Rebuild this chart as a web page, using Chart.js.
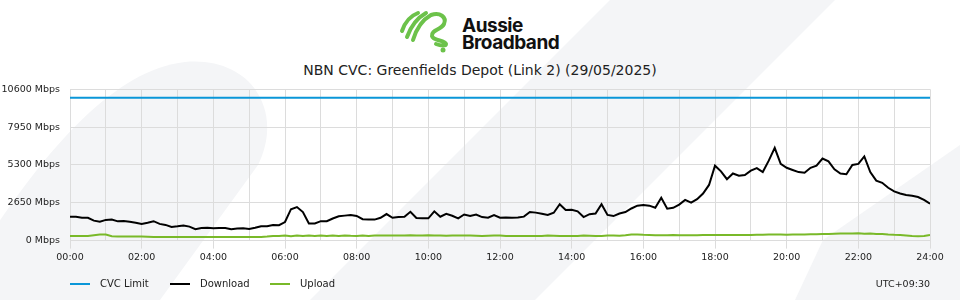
<!DOCTYPE html>
<html>
<head>
<meta charset="utf-8">
<script src="https://cdn.jsdelivr.net/npm/chart.js@4"></script>
<style>
  body { margin: 0; }
  #wrap { position: relative; width: 960px; height: 300px; background: #fff; overflow: hidden; font-family: "DejaVu Sans", sans-serif; color: #222; }
  #bg, #chart, #icon { position: absolute; left: 0; top: 0; }
  .brand { position: absolute; left: 462px; top: 17px; font-family: Inter, sans-serif; font-weight: 700; font-size: 19px; line-height: 17px; letter-spacing: -0.5px; color: #111; }
  .title { position: absolute; left: 0; top: 62px; width: 960px; text-align: center; font-size: 14px; line-height: 16px; }
  .key { position: absolute; top: 283px; width: 20px; height: 2px; }
  .lbl { position: absolute; top: 278px; font-size: 10px; line-height: 12px; white-space: nowrap; }
</style>
</head>
<body>
<div id="wrap">
  <svg id="bg" width="960" height="300">
    <path d="M-10,235 C40,160 110,70 185,62 C250,56 285,110 258,165 L160,300 L-10,300 Z" fill="#f4f5f7"/>
    <path d="M610,0 L835,0 L535,300 L310,300 Z" fill="#f4f5f7"/>
    <path d="M960,145 L823,240 L795,300 L960,300 Z" fill="#f4f5f7"/>
  </svg>
  <svg id="icon" width="960" height="60">
    <g fill="none" stroke="#6cc24a" stroke-width="4" stroke-linecap="round">
      <path d="M402,31 C405,22 410,16 418,13"/>
      <path d="M407,37 C411,26 417,18 426,13"/>
      <path d="M413,40 C416,30 422,20 431,15 C440,12 447,17 444,24 C441,30 431,30 432,36 C433,41 445,40 446,44 C446,46 441,46 436,44"/>
    </g>
    <circle cx="443" cy="50" r="2.5" fill="#6cc24a"/>
  </svg>
  <div class="brand">Aussie<br>Broadband</div>
  <div class="title">NBN CVC: Greenfields Depot (Link 2) (29/05/2025)</div>
  <canvas id="chart" width="960" height="300"></canvas>
  <span class="key" style="left:70px;background:#0a96d8"></span><span class="lbl" style="left:100px">CVC Limit</span>
  <span class="key" style="left:170px;background:#000"></span><span class="lbl" style="left:200px">Download</span>
  <span class="key" style="left:270px;background:#79b929"></span><span class="lbl" style="left:300px">Upload</span>
  <span class="lbl" style="right:30px;font-size:9.5px">UTC+09:30</span>
</div>
<script>
// samples every 10 minutes, 00:00 .. 24:00
const stepMinutes = 10;

const cvcTimes = [0, 24];
const cvcLimit = [10000, 10000];

const download = [
  1670, 1670, 1600, 1600, 1400, 1320,
  1450, 1480, 1350, 1380, 1320, 1250,
  1170, 1250, 1360, 1170, 1100, 960,
  1000, 1060, 980, 800, 880, 900,
  870, 880, 880, 800, 850, 870,
  820, 900, 1010, 1010, 1100, 1080,
  1300, 2200, 2350, 2000, 1200, 1200,
  1360, 1360, 1550, 1700, 1750, 1790,
  1730, 1500, 1480, 1470, 1600, 1860,
  1600, 1650, 1670, 2020, 1580, 1560,
  1560, 2050, 1670, 1880, 1740, 1560,
  1830, 1720, 1830, 1650, 1600, 1790,
  1600, 1620, 1600, 1620, 1680, 2000,
  1960, 1880, 1790, 1950, 2550, 2150,
  2160, 2050, 1650, 1850, 1900, 2550,
  1800, 1720, 1900, 2000, 2250, 2450,
  2490, 2450, 2300, 3000, 2240, 2300,
  2520, 2850, 2660, 2900, 3300, 3900,
  5250, 4850, 4300, 4700, 4550, 4600,
  4900, 5080, 4800, 5600, 6500, 5370,
  5100, 4950, 4800, 4750, 5100, 5250,
  5750, 5550, 5000, 4700, 4650, 5300,
  5370, 5900, 4800, 4200, 4050, 3700,
  3450, 3300, 3200, 3140, 3050, 2850,
  2590
];

const upload = [
  330, 330, 330, 320, 380, 420,
  420, 300, 290, 290, 290, 290,
  280, 270, 260, 250, 250, 250,
  250, 250, 250, 250, 250, 250,
  250, 250, 250, 250, 250, 250,
  250, 250, 250, 280, 320, 330,
  350, 310, 360, 320, 350, 330,
  360, 320, 350, 330, 360, 340,
  330, 350, 330, 350, 360, 350,
  350, 360, 350, 370, 350, 350,
  370, 360, 350, 340, 360, 350,
  350, 350, 340, 330, 340, 350,
  350, 330, 330, 330, 320, 330,
  330, 330, 350, 340, 330, 330,
  320, 330, 350, 340, 330, 330,
  360, 350, 340, 370, 420, 430,
  410, 400, 380, 380, 380, 400,
  380, 380, 370, 380, 390, 400,
  400, 390, 390, 400, 400, 400,
  400, 410, 410, 420, 420, 420,
  410, 420, 420, 430, 440, 440,
  460, 470, 480, 490, 500, 500,
  510, 480, 490, 470, 460, 430,
  410, 400, 360, 320, 300, 330,
  400
];

const yTicks = [0, 2650, 5300, 7950, 10600];

const toPoints = arr => arr.map((v, i) => ({ x: i * stepMinutes / 60, y: v }));
const tickFont = { family: 'DejaVu Sans', size: 9.5 };
const gridColor = '#dcdcdc';

new Chart(document.getElementById('chart'), {
  type: 'line',
  data: {
    datasets: [
      { label: 'CVC Limit', data: cvcTimes.map((t, i) => ({ x: t, y: cvcLimit[i] })), borderColor: '#0a96d8', borderWidth: 2, pointRadius: 0 },
      { label: 'Download', data: toPoints(download), borderColor: '#000', borderWidth: 2, pointRadius: 0 },
      { label: 'Upload', data: toPoints(upload), borderColor: '#79b929', borderWidth: 2, pointRadius: 0 }
    ]
  },
  options: {
    responsive: false,
    animation: false,
    layout: { padding: { top: 89.3, bottom: 34, left: 0, right: 30 } },
    plugins: {
      legend: { display: false },
      tooltip: { enabled: false }
    },
    scales: {
      x: {
        type: 'linear', min: 0, max: 24,
        ticks: {
          stepSize: 1, autoSkip: false, maxRotation: 0, font: tickFont, color: '#222',
          callback: v => v % 2 === 0 ? String(v).padStart(2, '0') + ':00' : ''
        },
        grid: { color: gridColor, tickLength: 8, tickColor: c => (c.tick && c.tick.value % 2) ? 'rgba(0,0,0,0)' : gridColor },
        border: { display: false }
      },
      y: {
        min: 0, max: 10600,
        afterBuildTicks: s => { s.ticks = yTicks.map(v => ({ value: v })); },
        ticks: { font: tickFont, color: '#222', padding: 10, callback: v => v + ' Mbps' },
        grid: { color: gridColor, drawTicks: false },
        border: { display: false },
        afterFit: s => { s.width = 70; }
      }
    }
  }
});
</script>
</body>
</html>
